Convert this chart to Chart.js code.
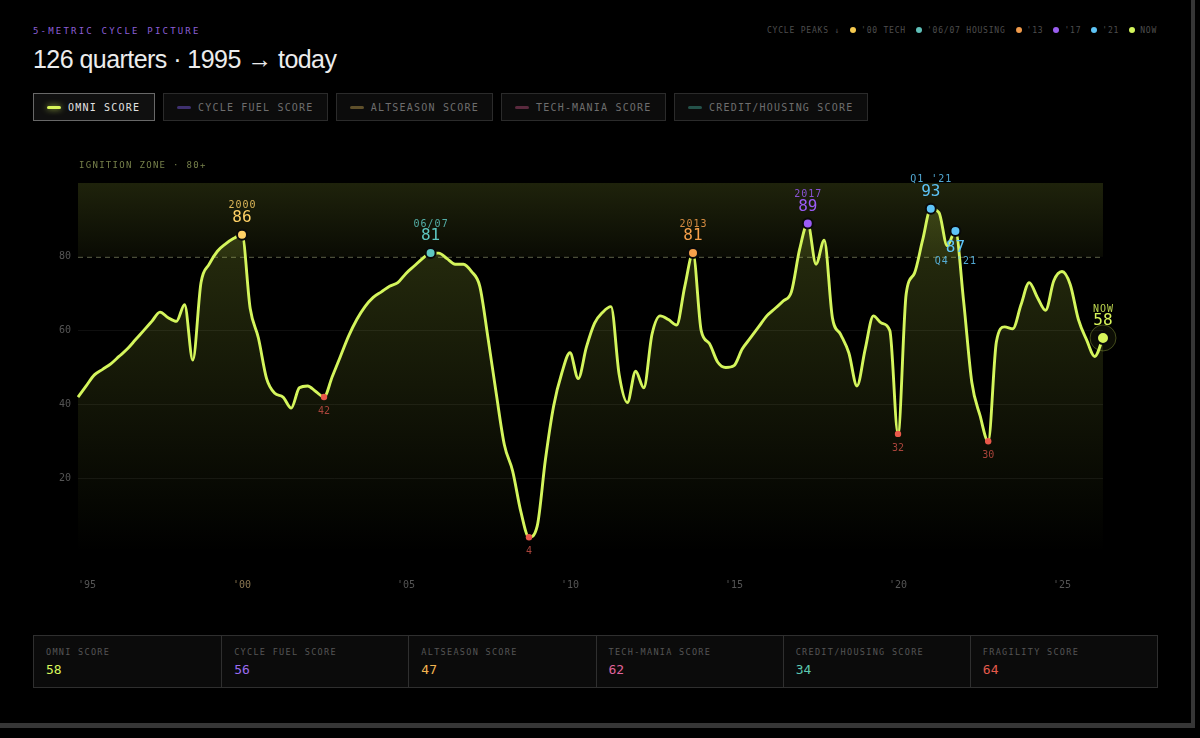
<!DOCTYPE html>
<html lang="en">
<head>
    <meta charset="UTF-8">
    <meta name="viewport" content="width=device-width, initial-scale=1.0">
    <title>5-Metric Cycle Picture</title>
    <script src="https://cdn.jsdelivr.net/npm/chart.js"></script>
    <style>
        body {
            margin: 0;
            background: #000;
            width: 1200px;
            height: 738px;
            overflow: hidden;
            font-family: "DejaVu Sans Mono", monospace;
        }
        .frame {
            position: absolute;
            left: 0; top: 0;
            width: 1191px; height: 723px;
            border-right: 4px solid #363636;
            border-bottom: 5px solid #363636;
        }
        .kicker {
            position: absolute;
            left: 33px; top: 26px;
            font-size: 9px;
            letter-spacing: 2.2px;
            color: #8b5fd6;
        }
        h1 {
            position: absolute;
            left: 33px; top: 45px;
            margin: 0;
            font-family: "Liberation Sans", Arial, sans-serif;
            font-weight: 400;
            font-size: 25px;
            letter-spacing: -0.55px;
            color: #ececec;
        }
        .peaks {
            position: absolute;
            left: 767px; top: 25px;
            height: 10px;
            display: flex;
            align-items: center;
            font-size: 8px;
            letter-spacing: 0.8px;
            color: #4e4e4e;
            white-space: nowrap;
        }
        .peaks span { display: flex; align-items: center; margin-left: 10px; }
        .peaks span:first-child { margin-left: 0; }
        .peaks b { width: 6px; height: 6px; border-radius: 50%; margin-right: 5px; }
        .tabs {
            position: absolute;
            left: 33px; top: 93px;
            display: flex;
            gap: 8px;
        }
        .tab {
            box-sizing: border-box;
            height: 28px;
            border: 1px solid #2b2b2b;
            background: #0c0c0c;
            padding: 0 13px;
            display: flex;
            align-items: center;
            gap: 7px;
            font-size: 10px;
            letter-spacing: 1.2px;
            color: #6e6e6e;
            white-space: nowrap;
        }
        .tab i { width: 14px; height: 3px; border-radius: 2px; display: block; }
        .tab.on { border-color: #686868; color: #e2e2e2; background: #101010; }
        .tab.on i { box-shadow: 0 0 6px rgba(216, 245, 90, 0.8); }
        .plot {
            position: absolute;
            left: 30px; top: 150px;
            width: 1100px; height: 450px;
        }
        .stats {
            position: absolute;
            left: 33px; top: 635px;
            width: 1125px; height: 53px;
            box-sizing: border-box;
            border: 1px solid #2f2f2f;
            display: grid;
            grid-template-columns: repeat(6, 1fr);
            background: #0b0b0b;
        }
        .stats div { border-left: 1px solid #2f2f2f; padding: 11px 12px 0; }
        .stats div:first-child { border-left: none; }
        .stats small { display: block; font-size: 8.5px; letter-spacing: 1.3px; color: #555; }
        .stats strong { display: block; margin-top: 5px; font-size: 13px; font-weight: 400; }
    </style>
</head>
<body>
    <div class="frame"></div>
    <div class="kicker">5-METRIC CYCLE PICTURE</div>
    <h1>126 quarters · 1995 → today</h1>
    <div class="peaks" id="peaks"></div>
    <div class="tabs" id="tabs"></div>
    <div class="plot"><canvas id="cycleChart"></canvas></div>
    <div class="stats" id="stats"></div>

    <script>
        // quarterly categories, 1995 Q1 .. 2026 Q2
        const quarters = [];
        for (let y = 1995; y <= 2026; y++) {
            for (let q = 1; q <= 4; q++) quarters.push(y + ' Q' + q);
        }
        quarters.length = 126;

        const omniScore = [
            42, 45, 48, 49.5, 51, 53, 55, 57.5, 60, 62.5,
            65, 63.5, 62.5, 67, 52, 73, 78, 81.5, 83.5, 85,
            86, 66, 58, 47, 43, 42, 39, 44.5, 45, 43.5,
            42, 47.5, 53, 58.5, 63, 66.5, 69, 70.5, 72, 73,
            75.5, 77.5, 79.5, 81, 81, 79.5, 78, 78, 76, 72,
            58, 43, 29, 22, 11, 4, 7, 25, 39.5, 48.5,
            54, 47, 55.5, 62, 65, 66.5, 48, 40.5, 49, 44.5,
            59, 64, 63, 61.5, 72, 81, 60, 56.5, 51.5, 50,
            50.5, 55, 58, 61, 64, 66, 68, 70.5, 82, 89,
            78, 84.5, 63.5, 59, 54, 45, 55, 64, 62, 60,
            32, 70, 75.5, 84.5, 93, 92, 83, 87, 68, 46,
            37, 30, 57, 61, 60.5, 67, 73, 69, 65.5, 73.5,
            76, 72.5, 63, 57.5, 53, 58
        ];

        const xTickIdx = [0, 20, 40, 60, 80, 100, 120];
        const xTickLabels = ["'95", "'00", "'05", "'10", "'15", "'20", "'25"];
        const yTicks = [20, 40, 60, 80];
        const zoneFloor = 80;

        const peakIdx = [20, 43, 75, 89, 104, 107, 125];
        const peakTags = ['2000', '06/07', '2013', '2017', "Q1 '21", "Q4 '21", 'NOW'];
        const peakColors = ['#ffd166', '#5ec8c2', '#f7a04b', '#9b5cf6', '#5ec4f7', '#5ec4f7', '#d8f55a'];
        const peakBelow = [false, false, false, false, false, true, false];
        const nowIdx = 125;
        const troughIdx = [30, 55, 100, 111];

        const legendNames = ['CYCLE PEAKS ↓', "'00 TECH", "'06/07 HOUSING", "'13", "'17", "'21", 'NOW'];
        const legendColors = [null, '#f5c94f', '#5fbfb8', '#f09a4a', '#9a5ef0', '#5ec4f5', '#d4f55c'];

        const tabNames = ['OMNI SCORE', 'CYCLE FUEL SCORE', 'ALTSEASON SCORE', 'TECH-MANIA SCORE', 'CREDIT/HOUSING SCORE'];
        const tabColors = ['#d8f55a', '#3f3170', '#5e4f2a', '#5a2a3e', '#24524a'];
        const tabWidths = [122, 165, 157, 165, 194];

        const statLabels = ['OMNI SCORE', 'CYCLE FUEL SCORE', 'ALTSEASON SCORE', 'TECH-MANIA SCORE', 'CREDIT/HOUSING SCORE', 'FRAGILITY SCORE'];
        const statValues = [58, 56, 47, 62, 34, 64];
        const statColors = ['#d8f55a', '#9b6cf0', '#f2b450', '#e0649c', '#5cc8b0', '#e35a4c'];

        // header bits
        document.getElementById('peaks').innerHTML = legendNames.map((n, i) =>
            `<span>${legendColors[i] ? `<b style="background:${legendColors[i]}"></b>` : ''}${n}</span>`).join('');
        document.getElementById('tabs').innerHTML = tabNames.map((n, i) =>
            `<div class="tab${i === 0 ? ' on' : ''}" style="width:${tabWidths[i]}px"><i style="background:${tabColors[i]}"></i>${n}</div>`).join('');
        document.getElementById('stats').innerHTML = statLabels.map((n, i) =>
            `<div><small>${n}</small><strong style="color:${statColors[i]}">${statValues[i]}</strong></div>`).join('');

        const MONO = '"DejaVu Sans Mono", monospace';
        Chart.defaults.font.family = MONO;

        const zonePlugin = {
            id: 'zone',
            beforeDatasetsDraw(chart) {
                const { ctx, chartArea: { left, right }, scales: { y } } = chart;
                const yTop = y.getPixelForValue(100);
                const y80 = y.getPixelForValue(zoneFloor);
                ctx.save();
                const g = ctx.createLinearGradient(0, yTop, 0, y80);
                g.addColorStop(0, 'rgba(190, 215, 70, 0.16)');
                g.addColorStop(1, 'rgba(190, 215, 70, 0.05)');
                ctx.fillStyle = g;
                ctx.fillRect(left, yTop, right - left, y80 - yTop);

                ctx.strokeStyle = '#5d6146';
                ctx.lineWidth = 1;
                ctx.setLineDash([5, 4]);
                ctx.beginPath();
                ctx.moveTo(left, y80 + 0.5);
                ctx.lineTo(right, y80 + 0.5);
                ctx.stroke();
                ctx.setLineDash([]);

                ctx.font = '9px ' + MONO;
                ctx.letterSpacing = '1.3px';
                ctx.fillStyle = '#76804a';
                ctx.textBaseline = 'middle';
                ctx.fillText('IGNITION ZONE · 80+', left + 1, yTop - 17);

                // halo round the latest reading
                const pt = chart.getDatasetMeta(0).data[nowIdx];
                ctx.beginPath();
                ctx.arc(pt.x, pt.y, 13, 0, Math.PI * 2);
                ctx.fillStyle = 'rgba(216, 245, 90, 0.06)';
                ctx.fill();
                ctx.strokeStyle = 'rgba(216, 245, 90, 0.28)';
                ctx.stroke();
                ctx.restore();
            }
        };

        const labelPlugin = {
            id: 'peakLabels',
            afterDatasetsDraw(chart) {
                const { ctx } = chart;
                const meta = chart.getDatasetMeta(0);
                ctx.save();
                ctx.textAlign = 'center';
                ctx.textBaseline = 'middle';
                peakIdx.forEach((idx, k) => {
                    const pt = meta.data[idx];
                    const val = Math.round(omniScore[idx]);
                    const tagY = peakBelow[k] ? pt.y + 30 : pt.y - 29;
                    const valY = peakBelow[k] ? pt.y + 17 : pt.y - 17;
                    ctx.fillStyle = peakColors[k];
                    ctx.globalAlpha = 0.85;
                    ctx.font = '10px ' + MONO;
                    ctx.letterSpacing = '1px';
                    ctx.fillText(peakTags[k], pt.x + 0.5, tagY);
                    ctx.globalAlpha = 1;
                    ctx.letterSpacing = '0px';
                    ctx.font = '16px ' + MONO;
                    ctx.fillText(String(val), pt.x, valY);
                });
                ctx.font = '10px ' + MONO;
                ctx.fillStyle = '#a9443b';
                troughIdx.forEach(idx => {
                    const pt = meta.data[idx];
                    ctx.fillText(String(Math.round(omniScore[idx])), pt.x, pt.y + 14);
                });
                ctx.restore();
            }
        };

        const ctx = document.getElementById('cycleChart').getContext('2d');
        new Chart(ctx, {
            type: 'line',
            data: {
                labels: quarters,
                datasets: [{
                    label: 'Omni Score',
                    data: omniScore,
                    borderColor: '#d4f55c',
                    borderWidth: 2.9,
                    cubicInterpolationMode: 'monotone',
                    clip: false,
                    fill: 'origin',
                    backgroundColor(context) {
                        const { ctx, chartArea } = context.chart;
                        if (!chartArea) return 'transparent';
                        const g = ctx.createLinearGradient(0, chartArea.top, 0, chartArea.bottom);
                        g.addColorStop(0, 'rgba(200, 230, 70, 0.22)');
                        g.addColorStop(1, 'rgba(200, 230, 70, 0.0)');
                        return g;
                    },
                    pointRadius(c) {
                        const i = c.dataIndex;
                        if (i === nowIdx) return 6;
                        if (peakIdx.includes(i)) return 5;
                        if (troughIdx.includes(i)) return 3.2;
                        return 0;
                    },
                    pointBackgroundColor(c) {
                        const k = peakIdx.indexOf(c.dataIndex);
                        return k >= 0 ? peakColors[k] : '#e8584a';
                    },
                    pointBorderColor: '#0a0a0a',
                    pointBorderWidth(c) {
                        return peakIdx.includes(c.dataIndex) ? 2 : 0;
                    },
                    pointHoverRadius: 0
                }]
            },
            options: {
                responsive: true,
                maintainAspectRatio: false,
                animation: false,
                events: [],
                layout: { padding: { top: 33, right: 27, left: 0, bottom: 0 } },
                plugins: {
                    legend: { display: false },
                    tooltip: { enabled: false }
                },
                scales: {
                    x: {
                        type: 'category',
                        offset: false,
                        grid: { display: false, drawTicks: false },
                        border: { display: false },
                        afterFit(scale) { scale.height = 48; },
                        ticks: {
                            autoSkip: false,
                            maxRotation: 0,
                            align: 'inner',
                            padding: 27,
                            font: { size: 10 },
                            color(c) { return c.index === 20 ? '#8a7650' : '#555'; },
                            callback(val, i) {
                                const k = xTickIdx.indexOf(i);
                                return k >= 0 ? xTickLabels[k] : '';
                            }
                        }
                    },
                    y: {
                        min: 0,
                        max: 100,
                        grid: {
                            drawTicks: false,
                            color(c) {
                                const v = c.tick && c.tick.value;
                                return (yTicks.includes(v) && v !== zoneFloor) ? 'rgba(255, 255, 255, 0.06)' : 'transparent';
                            }
                        },
                        border: { display: false },
                        afterFit(scale) { scale.width = 48; },
                        ticks: {
                            stepSize: 20,
                            padding: 7,
                            font: { size: 10 },
                            color: '#555',
                            callback(v) { return yTicks.includes(v) ? v : ''; }
                        }
                    }
                }
            },
            plugins: [zonePlugin, labelPlugin]
        });
    </script>
</body>
</html>
